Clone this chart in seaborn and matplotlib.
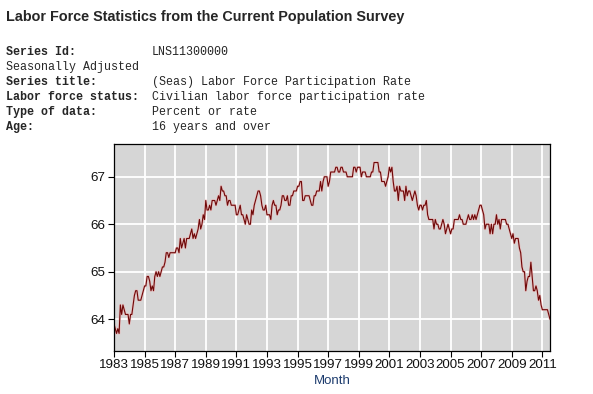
import numpy as np
import pandas as pd
import seaborn as sns
import matplotlib.pyplot as plt

# monthly labor force participation rate, Jan 1983 - Jul 2011
rate_1983_1989 = [
    63.9, 63.8, 63.7, 63.8, 63.7, 64.3, 64.1, 64.3, 64.2, 64.1, 64.1, 64.1,
    63.9, 64.1, 64.1, 64.3, 64.5, 64.6, 64.6, 64.4, 64.4, 64.4, 64.5, 64.6,
    64.7, 64.7, 64.9, 64.9, 64.8, 64.6, 64.7, 64.6, 64.9, 65.0, 64.9, 65.0,
    64.9, 65.0, 65.1, 65.1, 65.2, 65.4, 65.4, 65.3, 65.4, 65.4, 65.4, 65.4,
    65.4, 65.5, 65.5, 65.4, 65.7, 65.5, 65.6, 65.7, 65.5, 65.7, 65.7, 65.7,
    65.8, 65.9, 65.7, 65.8, 65.7, 65.8, 65.9, 66.1, 65.9, 66.0, 66.2, 66.1,
    66.5, 66.3, 66.3, 66.4, 66.3, 66.5, 66.5, 66.5, 66.4, 66.5, 66.6, 66.5,
]
rate_1990_1999 = [
    66.8, 66.7, 66.7, 66.6, 66.6, 66.4, 66.5, 66.5, 66.4, 66.4, 66.4, 66.4,
    66.2, 66.2, 66.3, 66.4, 66.2, 66.2, 66.1, 66.0, 66.2, 66.1, 66.0, 66.0,
    66.3, 66.2, 66.4, 66.5, 66.6, 66.7, 66.7, 66.6, 66.4, 66.3, 66.3, 66.4,
    66.2, 66.2, 66.2, 66.1, 66.4, 66.5, 66.4, 66.4, 66.2, 66.3, 66.3, 66.4,
    66.6, 66.6, 66.5, 66.5, 66.6, 66.4, 66.4, 66.6, 66.6, 66.7, 66.7, 66.7,
    66.8, 66.8, 66.9, 66.9, 66.5, 66.5, 66.6, 66.6, 66.6, 66.6, 66.5, 66.4,
    66.4, 66.6, 66.6, 66.7, 66.7, 66.7, 66.9, 66.7, 66.9, 67.0, 67.0, 67.0,
    66.8, 66.9, 67.1, 67.1, 67.1, 67.1, 67.2, 67.2, 67.1, 67.1, 67.2, 67.2,
    67.1, 67.1, 67.1, 67.0, 67.0, 67.0, 67.0, 67.0, 67.2, 67.2, 67.1, 67.2,
    67.2, 67.2, 67.0, 67.1, 67.1, 67.1, 67.0, 67.0, 67.0, 67.0, 67.1, 67.1,
]
rate_2000_2011 = [
    67.3, 67.3, 67.3, 67.3, 67.1, 67.1, 66.9, 66.9, 66.9, 66.8, 66.9, 67.0,
    67.2, 67.1, 67.2, 66.9, 66.7, 66.7, 66.8, 66.5, 66.8, 66.7, 66.7, 66.7,
    66.5, 66.8, 66.6, 66.7, 66.7, 66.6, 66.5, 66.6, 66.7, 66.6, 66.4, 66.3,
    66.4, 66.4, 66.3, 66.4, 66.4, 66.5, 66.2, 66.1, 66.1, 66.1, 66.1, 65.9,
    66.1, 66.0, 66.0, 65.9, 65.9, 66.0, 66.1, 66.0, 65.8, 65.9, 66.0, 65.9,
    65.8, 65.9, 65.9, 66.1, 66.1, 66.1, 66.1, 66.2, 66.1, 66.1, 66.0, 66.0,
    66.0, 66.1, 66.2, 66.1, 66.1, 66.2, 66.1, 66.2, 66.1, 66.2, 66.3, 66.4,
    66.4, 66.3, 66.2, 65.9, 66.0, 66.0, 66.0, 65.8, 66.0, 65.8, 66.0, 66.0,
    66.2, 66.0, 66.1, 65.9, 66.1, 66.1, 66.1, 66.1, 66.0, 66.0, 65.9, 65.8,
    65.7, 65.8, 65.6, 65.7, 65.7, 65.7, 65.5, 65.4, 65.1, 65.0, 65.0, 64.6,
    64.8, 64.9, 64.9, 65.2, 64.9, 64.6, 64.6, 64.7, 64.6, 64.4, 64.5, 64.3,
    64.2, 64.2, 64.2, 64.2, 64.2, 64.1, 64.0,
]
rates = rate_1983_1989 + rate_1990_1999 + rate_2000_2011
start_year = 1983
tick_years = list(range(1983, 2012, 2))
y_ticks = [64, 65, 66, 67]

header_labels = ["Series Id:", "Seasonally Adjusted", "Series title:",
                 "Labor force status:", "Type of data:", "Age:"]
header_values = ["LNS11300000", "", "(Seas) Labor Force Participation Rate",
                 "Civilian labor force participation rate", "Percent or rate",
                 "16 years and over"]
header_bold = [True, False, True, True, True, True]

df = pd.DataFrame({"month": start_year + np.arange(len(rates)) / 12.0,
                   "rate": rates})

sns.set_style("darkgrid", {"axes.facecolor": "#d6d6d6", "grid.color": "white",
                           "axes.edgecolor": "black"})
plt.rcParams['font.family'] = ['Liberation Sans', 'DejaVu Sans']

fig = plt.figure(figsize=(5.93, 3.94), dpi=100)
fig.patch.set_facecolor("white")
ax = fig.add_axes([114 / 593, 43 / 394, 436 / 593, 207 / 394])

# faint pink halo then the dark red line
sns.lineplot(data=df, x="month", y="rate", ax=ax, color="#eeb4b4", lw=1.8, alpha=0.7)
sns.lineplot(data=df, x="month", y="rate", ax=ax, color="#6e0808", lw=0.8)

ax.set_xlim(df["month"].iloc[0], df["month"].iloc[-1])
ax.set_ylim(63.33, 67.69)
ax.set_xticks(tick_years)
ax.set_xticklabels([str(y) for y in tick_years])
ax.set_yticks(y_ticks)
ax.grid(True, color="white", lw=1.3)
ax.tick_params(axis="both", which="both", length=4, width=0.8, color="black",
               labelsize=9.6, labelcolor="#111111", pad=2, bottom=True, left=True)
for s in ax.spines.values():
    s.set_visible(True)
    s.set_color("black")
    s.set_linewidth(0.9)
ax.set_xlabel("Month", color="#1d3c6e", fontsize=9.5, labelpad=3)
ax.set_ylabel("")

fig.text(6 / 593, 1 - 17 / 394, "Labor Force Statistics from the Current Population Survey",
         fontsize=10.4, fontweight="bold", va="center", ha="left")

for i, (lab, val, b) in enumerate(zip(header_labels, header_values, header_bold)):
    yy = 1 - (52 + 15 * i) / 394
    fig.text(6 / 593, yy, lab, family="Liberation Mono", fontsize=8.4,
             fontweight="bold" if b else "normal", va="center", ha="left")
    if val:
        fig.text(152 / 593, yy, val, family="Liberation Mono", fontsize=8.4,
                 va="center", ha="left")

fig.savefig("out.png", dpi=100)
